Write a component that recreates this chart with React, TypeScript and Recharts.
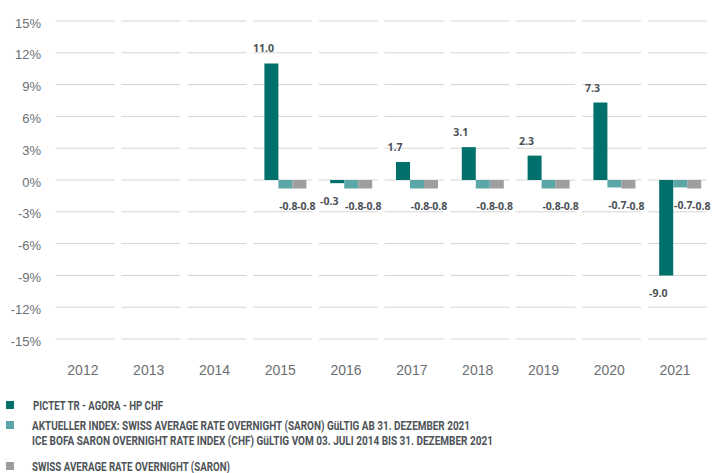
import * as React from "react";
import { BarChart, Bar, XAxis, YAxis, CartesianGrid, LabelList } from "recharts";

const years = ["2012", "2013", "2014", "2015", "2016", "2017", "2018", "2019", "2020", "2021"];
const pictet = [null, null, null, 11.0, -0.3, 1.7, 3.1, 2.3, 7.3, -9.0];
const aktuellerIndex = [null, null, null, -0.8, -0.8, -0.8, -0.8, -0.8, -0.7, -0.7];
const saron = [null, null, null, -0.8, -0.8, -0.8, -0.8, -0.8, -0.8, -0.8];
const yTicks = [-15, -12, -9, -6, -3, 0, 3, 6, 9, 12, 15];

const colors = { pictet: "#00706c", index: "#5ba7a7", saron: "#9e9e9e" };

// legend rows: colour, text lines and the width each line takes in the original
const legendItems = [
  { color: colors.pictet, lines: [{ text: "PICTET TR - AGORA - HP CHF", w: 130 }] },
  {
    color: colors.index,
    lines: [
      { text: "AKTUELLER INDEX: SWISS AVERAGE RATE OVERNIGHT (SARON) GüLTIG AB 31. DEZEMBER 2021", w: 438 },
      { text: "ICE BOFA SARON OVERNIGHT RATE INDEX (CHF) GüLTIG VOM 03. JULI 2014 BIS 31. DEZEMBER 2021", w: 461 },
    ],
  },
  { color: colors.saron, lines: [{ text: "SWISS AVERAGE RATE OVERNIGHT (SARON)", w: 198 }] },
];

const data = years.map((year, i) => ({
  year,
  pictet: pictet[i],
  index: aktuellerIndex[i],
  saron: saron[i],
}));

const makeLabel = (dx: number) => (props: any) => {
  const { x, y, width, height, value } = props;
  if (value === null || value === undefined) return null;
  const top = Math.min(y, y + height);
  const bottom = Math.max(y, y + height);
  const cy = value >= 0 ? top - 15 : bottom + 18;
  return (
    <text
      x={x + width / 2 + dx}
      y={cy}
      textAnchor="middle"
      dominantBaseline="central"
      fontSize={10.5}
      fontWeight={700}
      fill="#4b5157"
      fontFamily="'Open Sans', 'Liberation Sans', sans-serif"
    >
      {Number(value).toFixed(1)}
    </text>
  );
};

const LegendBlock = () => {
  const rowTops = [401, 421, 462];
  return (
    <svg width={713} height={85} style={{ display: "block", marginLeft: -8 }}>
      {legendItems.map((item, i) => {
        const top = rowTops[i] - 388;
        return (
          <g key={i}>
            <rect x={6} y={top} width={8} height={8} fill={item.color} />
            {item.lines.map((line, j) => (
              <text
                key={j}
                x={j === 0 && i === 0 ? 33 : 32}
                y={top + 8.5 + j * 15}
                fontSize={13.5}
                fontWeight={700}
                fill="#4e5358"
                fontFamily="Roboto, 'Liberation Sans', sans-serif"
                textLength={line.w}
                lengthAdjust="spacingAndGlyphs"
              >
                {line.text}
              </text>
            ))}
          </g>
        );
      })}
    </svg>
  );
};

export default function App() {
  return (
    <div style={{ width: 705, paddingTop: 8, paddingLeft: 8 }}>
      <style>{`html { overflow: hidden; } body { margin: 0; }`}</style>
      <BarChart
        width={705}
        height={380}
        data={data}
        margin={{ top: 13, right: 0, bottom: 0, left: 0 }}
        barSize={14}
        barGap={0}
      >
        <CartesianGrid vertical={false} stroke="#d4d4d4" strokeDasharray="0 0.7 59 6.1" />
        <XAxis
          dataKey="year"
          axisLine={false}
          tickLine={false}
          tickSize={0}
          tickMargin={26}
          height={49}
          interval={0}
          tick={{ fill: "#6b6f73", fontSize: 14, dx: -5, fontFamily: "'Liberation Sans', sans-serif" }}
        />
        <YAxis
          domain={[-15, 15]}
          ticks={yTicks}
          width={47}
          axisLine={false}
          tickLine={false}
          tickSize={0}
          tickMargin={14}
          tickFormatter={(v) => `${v}%`}
          tick={{ fill: "#6b6f73", fontSize: 13, dy: 2, fontFamily: "'Liberation Sans', sans-serif" }}
        />
        <Bar dataKey="pictet" fill={colors.pictet} isAnimationActive={false}>
          <LabelList dataKey="pictet" content={makeLabel(-8)} />
        </Bar>
        <Bar dataKey="index" fill={colors.index} isAnimationActive={false}>
          <LabelList dataKey="index" content={makeLabel(3)} />
        </Bar>
        <Bar dataKey="saron" fill={colors.saron} isAnimationActive={false}>
          <LabelList dataKey="saron" content={makeLabel(7)} />
        </Bar>
      </BarChart>
      <LegendBlock />
    </div>
  );
}
